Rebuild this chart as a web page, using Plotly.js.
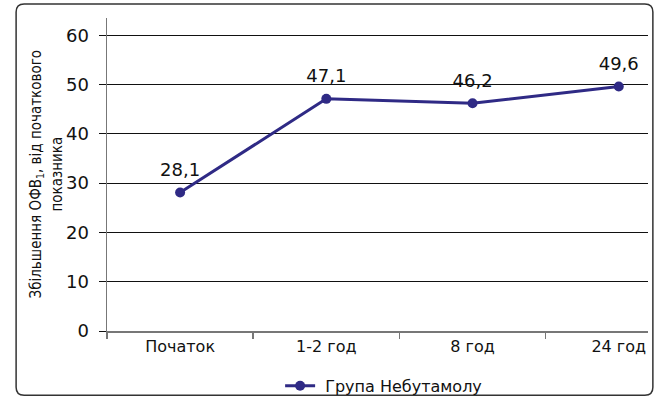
<!DOCTYPE html>
<html>
<head>
<meta charset="utf-8">
<script src="https://cdn.plot.ly/plotly-3.0.1.min.js"></script>
<style>html,body{margin:0;padding:0;background:#fff;}#chart{width:663px;height:398px;}</style>
</head>
<body>
<div id="chart"></div>
<script>
const categories = ["Початок", "1-2 год", "8 год", "24 год"];
const values = [28.1, 47.1, 46.2, 49.6];
const valueLabels = ["28,1", "47,1", "46,2", "49,6"];
const seriesName = "Група Небутамолу";
const yTicks = [0, 10, 20, 30, 40, 50, 60];
const yTitleLine1 = "Збільшення ОФВ<sub>1</sub>, від початкового";
const yTitleLine2 = "показника";

const numFont = "DejaVu Sans, Liberation Sans, sans-serif";
const titleFont = "DejaVu Sans Condensed, DejaVu Sans, sans-serif";
const lineColor = "#2f2a85";

const lineTrace = {
  type: "scatter",
  mode: "lines+markers",
  x: categories,
  y: values,
  name: " " + seriesName,
  line: {color: lineColor, width: 3},
  marker: {color: lineColor, size: 10},
  cliponaxis: false,
  showlegend: true
};

const labelTrace = {
  type: "scatter",
  mode: "markers+text",
  x: categories,
  y: values,
  text: valueLabels,
  textposition: "top center",
  textfont: {family: numFont, size: 18, color: "#111"},
  marker: {color: "rgba(0,0,0,0)", size: 18},
  cliponaxis: false,
  showlegend: false,
  hoverinfo: "skip"
};

// rounded frame (paper coords, corner radius ~8px)
const fx0 = -0.168, fx1 = 1.009, fy0 = -0.205, fy1 = 1.045;
const rx = 8 / 541, ry = 8 / 313;
const framePath =
  `M ${fx0 + rx} ${fy1} L ${fx1 - rx} ${fy1} Q ${fx1} ${fy1} ${fx1} ${fy1 - ry} ` +
  `L ${fx1} ${fy0 + ry} Q ${fx1} ${fy0} ${fx1 - rx} ${fy0} ` +
  `L ${fx0 + rx} ${fy0} Q ${fx0} ${fy0} ${fx0} ${fy0 + ry} ` +
  `L ${fx0} ${fy1 - ry} Q ${fx0} ${fy1} ${fx0 + rx} ${fy1} Z`;

const layout = {
  width: 663, height: 398,
  margin: {l: 107, r: 15, t: 18, b: 67, autoexpand: false},
  paper_bgcolor: "#fff", plot_bgcolor: "#fff",
  font: {family: numFont, color: "#111"},
  showlegend: true,
  legend: {
    orientation: "h", x: 0.32, xanchor: "left", y: -0.175, yanchor: "middle",
    bgcolor: "rgba(0,0,0,0)",
    font: {family: numFont, size: 16, color: "#111"}
  },
  xaxis: {
    type: "category",
    range: [-0.5, 3.2],
    showline: true, linecolor: "#777", linewidth: 1.5,
    ticks: "outside", ticklen: 6, tickcolor: "#777", tickwidth: 1.5,
    tickson: "boundaries",
    showgrid: false, zeroline: false,
    tickfont: {family: numFont, size: 16, color: "#111"}
  },
  yaxis: {
    range: [0, 63.5],
    tickvals: yTicks,
    ticktext: yTicks.map(String),
    showline: true, linecolor: "#777", linewidth: 1.5,
    ticks: "outside", ticklen: 7, tickcolor: "#111", tickwidth: 1,
    showgrid: true, gridcolor: "#111", gridwidth: 1,
    zeroline: false,
    ticklabelstandoff: 6,
    tickfont: {family: numFont, size: 18, color: "#111"}
  },
  annotations: [
    {
      xref: "paper", yref: "paper",
      x: (36 - 107) / 541, y: 0.5,
      xanchor: "center", yanchor: "middle",
      textangle: -90, showarrow: false,
      text: yTitleLine1,
      font: {family: titleFont, size: 15, color: "#111"}
    },
    {
      xref: "paper", yref: "paper",
      x: (56 - 107) / 541, y: 0.5,
      xanchor: "center", yanchor: "middle",
      textangle: -90, showarrow: false,
      text: yTitleLine2,
      font: {family: titleFont, size: 15, color: "#111"}
    }
  ],
  shapes: [{
    type: "path", xref: "paper", yref: "paper",
    path: framePath,
    line: {color: "#333", width: 1.5}, layer: "below"
  }]
};

Plotly.newPlot("chart", [lineTrace, labelTrace], layout, {displayModeBar: false, staticPlot: true});
</script>
</body>
</html>
